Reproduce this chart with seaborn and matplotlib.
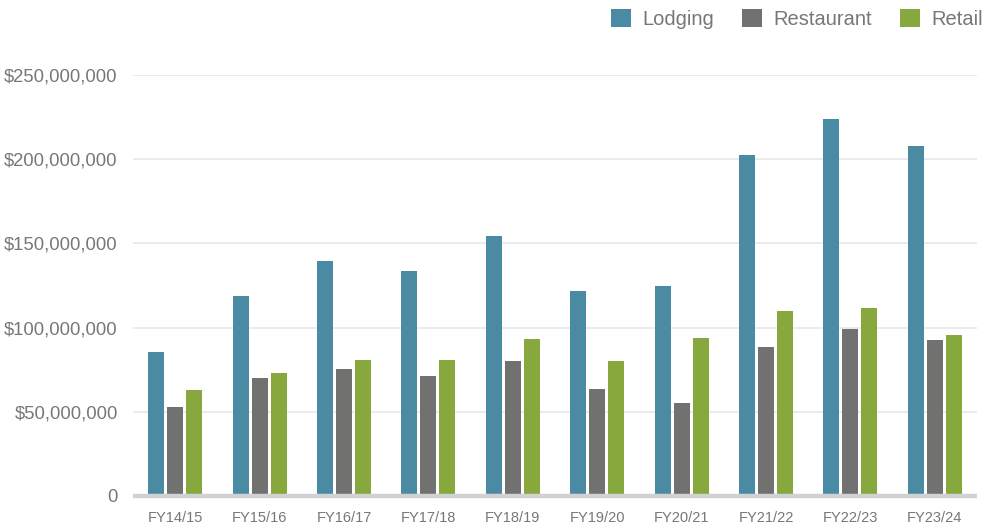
import matplotlib
matplotlib.use("Agg")
import matplotlib.pyplot as plt
import pandas as pd
import seaborn as sns
from matplotlib.ticker import FuncFormatter

years = ["FY14/15", "FY15/16", "FY16/17", "FY17/18", "FY18/19",
         "FY19/20", "FY20/21", "FY21/22", "FY22/23", "FY23/24"]
lodging = [85.4, 118.6, 139.4, 133.5, 154.3, 121.6, 124.6, 202.3, 223.6, 207.6]
restaurant = [52.8, 70.0, 75.3, 71.2, 80.1, 63.5, 55.2, 88.4, 99.0, 92.5]
retail = [62.9, 73.0, 80.7, 80.7, 93.1, 80.1, 93.7, 109.7, 111.5, 95.5]
series = ["Lodging", "Restaurant", "Retail"]
colors = ["#4a8aa3", "#717170", "#86a83c"]

df = pd.DataFrame({
    "year": years * 3,
    "kind": [s for s in series for _ in years],
    "value": [v * 1e6 for v in lodging + restaurant + retail],
})

sns.set_theme(style="white")
plt.rcParams["font.family"] = ["Liberation Sans", "DejaVu Sans"]

fig = plt.figure(figsize=(9.93, 5.30), dpi=100)
ax = fig.add_axes([133 / 993, 34 / 530, 844 / 993, 421 / 530])

sns.barplot(data=df, x="year", y="value", hue="kind", palette=colors,
            width=0.675, gap=0.16, saturation=1, linewidth=0, ax=ax, zorder=3)

ax.set_ylim(0, 250e6)
ax.set_xlim(-0.5, len(years) - 0.5)
ax.set_yticks([0, 50e6, 100e6, 150e6, 200e6, 250e6])
ax.yaxis.set_major_formatter(FuncFormatter(lambda v, p: "0" if v == 0 else f"${v:,.0f}"))
ax.grid(axis="y", color="#e8e8e8", linewidth=1.2, zorder=0)
ax.set_xlabel("")
ax.set_ylabel("")
ax.tick_params(axis="y", length=0, pad=11, labelsize=13.3, labelcolor="#777777")
ax.tick_params(axis="x", length=0, pad=11, labelsize=10.5, labelcolor="#777777")
for side in ["top", "right", "left"]:
    ax.spines[side].set_visible(False)
ax.spines["bottom"].set_color("#d2d2d4")
ax.spines["bottom"].set_linewidth(3.2)
ax.spines["bottom"].set_capstyle("butt")
ax.spines["bottom"].set_zorder(4)

handles, labels = ax.get_legend_handles_labels()
ax.get_legend().remove()
fig.legend(handles, labels, loc="upper right", bbox_to_anchor=(995 / 993, 1.006),
           ncol=3, frameon=False, fontsize=14.5, labelcolor="#777777",
           handlelength=1.0, handleheight=1.0, handletextpad=0.55,
           columnspacing=1.4, borderaxespad=0.2)

fig.savefig("out.png", dpi=100)
